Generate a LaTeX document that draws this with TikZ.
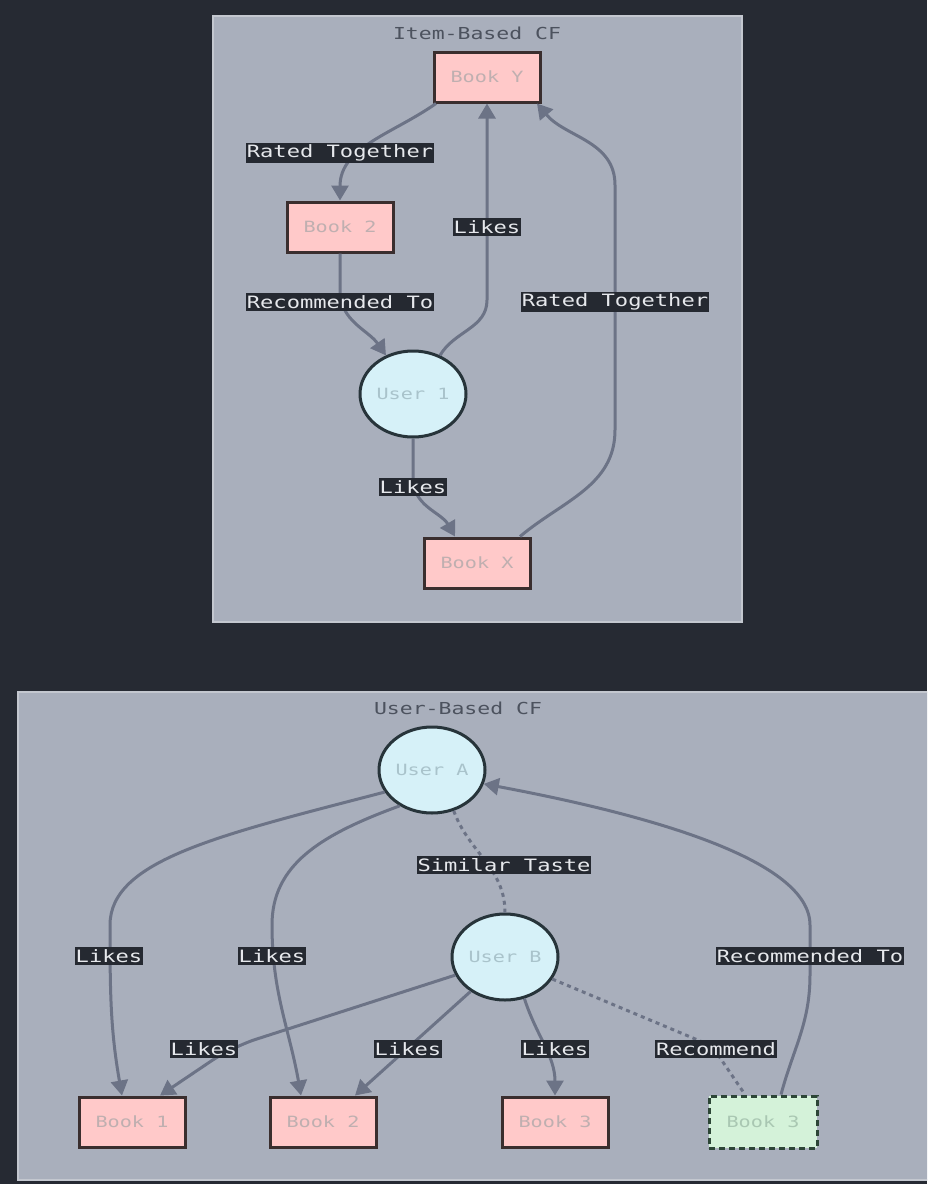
\documentclass[tikz,border=0pt]{standalone}
\usepackage{fontspec}
\usetikzlibrary{arrows.meta,shapes.geometric}
\newfontfamily\mono[FakeStretch=1.3]{DejaVu Sans Mono}
\definecolor{bgdark}{HTML}{262A33}
\definecolor{clusterfill}{HTML}{A9AFBC}
\definecolor{clusterline}{HTML}{C3C7CF}
\definecolor{edgecol}{HTML}{6C7386}
\definecolor{bookfill}{HTML}{FFC9C9}
\definecolor{bookline}{HTML}{3A2E2E}
\definecolor{booktext}{HTML}{BFAFB0}
\definecolor{userfill}{HTML}{D6F1F8}
\definecolor{userline}{HTML}{27343A}
\definecolor{usertext}{HTML}{A9C3CB}
\definecolor{greenfill}{HTML}{D4F2D9}
\definecolor{greenline}{HTML}{2C4636}
\definecolor{greentext}{HTML}{A9C7B2}
\definecolor{labelfill}{HTML}{252931}
\definecolor{labeltext}{HTML}{E6E8EC}
\definecolor{titletext}{HTML}{4C525E}
\tikzset{
  cluster/.style={fill=clusterfill, draw=clusterline, line width=1.5pt},
  booknode/.style={rectangle, fill=bookfill, draw=bookline, line width=3pt,
    minimum width=106pt, minimum height=50pt, text=booktext, font=\mono\fontsize{15.5}{17}\selectfont},
  usernode/.style={ellipse, fill=userfill, draw=userline, line width=3pt,
    minimum width=106pt, minimum height=86pt, inner sep=0pt, text=usertext, font=\mono\fontsize{15.5}{17}\selectfont},
  recnode/.style={rectangle, fill=greenfill, draw=greenline, line width=3pt,
    dash pattern=on 6pt off 4pt, minimum width=108pt, minimum height=52pt,
    text=greentext, font=\mono\fontsize{15.5}{17}\selectfont},
  edgelabel/.style={fill=labelfill, text=labeltext, inner xsep=1pt, inner ysep=2pt,
    font=\mono\fontsize{17}{19}\selectfont},
  clustertitle/.style={text=titletext, font=\mono\fontsize{16.5}{18}\selectfont},
  link/.style={draw=edgecol, line width=3pt, -{Triangle[length=15pt,width=17pt]}},
  dotlink/.style={draw=edgecol, line width=3pt, dash pattern=on 4pt off 4pt},
}
\begin{document}
\begin{tikzpicture}[x=1pt,y=1pt]
\useasboundingbox (0,0) rectangle (927,-1184);
\clip (0,0) rectangle (927,-1184);
\fill[bgdark] (0,0) rectangle (927,-1184);

% clusters
\draw[cluster] (213,-16) rectangle (742,-622);
\draw[cluster] (18,-692) rectangle (945,-1180);
\node[clustertitle] (t1) at (477,-33) {Item-Based CF};
\node[clustertitle] (t2) at (458,-708) {User-Based CF};

% ---------- Item-based ----------
\node[booknode] (BY) at (487,-77) {Book Y};
\node[booknode] (BT2) at (340,-227) {Book 2};
\node[usernode] (U1) at (413,-394) {User 1};
\node[booknode] (BX) at (477,-563) {Book X};

\coordinate (cRT1) at (340,-153);
\coordinate (cL1) at (487,-227);
\coordinate (cRec) at (340,-302);
\coordinate (cRT2) at (615,-302);
\coordinate (cL2) at (413,-487);

\draw[link] ([xshift=-51]BY.south) to[out=-145,in=90] (BT2.north);
\draw[link] (BT2.south) -- (340,-290) to[out=-90,in=125] (U1.125);
\draw[link] (U1.55) to[out=60,in=-90] (487,-300) -- (BY.south);
\draw[link] (U1.south) -- (413,-478) to[out=-90,in=120] ([xshift=-22]BX.north);
\draw[link] ([xshift=43]BX.north) to[out=40,in=-90] (615,-430) -- (615,-185) to[out=90,in=-50] ([xshift=50]BY.south);

\node[edgelabel] (lRT1) at (cRT1) {Rated Together};
\node[edgelabel] (lL1) at (cL1) {Likes};
\node[edgelabel] (lRec) at (cRec) {Recommended To};
\node[edgelabel] (lRT2) at (cRT2) {Rated Together};
\node[edgelabel] (lL2) at (cL2) {Likes};

% ---------- User-based ----------
\node[usernode] (UA) at (432,-770) {User A};
\node[usernode] (UB) at (505,-957) {User B};
\node[booknode] (B1) at (132,-1122) {Book 1};
\node[booknode] (B2) at (323,-1122) {Book 2};
\node[booknode] (B3) at (555,-1122) {Book 3};
\node[recnode] (G3) at (763,-1122) {Book 3};

\coordinate (cST) at (504,-865);
\coordinate (cLA1) at (109,-956);
\coordinate (cLA2) at (272,-956);
\coordinate (cRT) at (810,-956);
\coordinate (cLB1) at (204,-1049);
\coordinate (cLB2) at (408,-1049);
\coordinate (cLB3) at (555,-1049);
\coordinate (cR) at (716,-1049);

\draw[link] (UA.205) .. controls (220,-835) and (110,-860) .. (110,-925) to[out=-90,in=100] ([xshift=-10]B1.north);
\draw[link] (UA.228) .. controls (320,-835) and (272,-865) .. (272,-925) to[out=-90,in=100] ([xshift=-22]B2.north);
\draw[dotlink] (UA.-62) to[out=-70,in=90] (UB.north);
\draw[link, rounded corners=25pt] (UB.200) -- (232,-1047) -- ([xshift=28]B1.north);
\draw[link] (UB.225) -- ([xshift=32]B2.north);
\draw[link] (UB.-65) to[out=-72,in=90] (B3.north);
\draw[dotlink] (UB.-25) -- (712,-1046) -- ([xshift=-18]G3.north);
\draw[link] ([xshift=18]G3.north) to[out=75,in=-90] (810,-975) -- (810,-925) .. controls (810,-860) and (650,-815) .. (UA.-15);

\node[edgelabel] (lST) at (cST) {Similar Taste};
\node[edgelabel] (lLA1) at (cLA1) {Likes};
\node[edgelabel] (lLA2) at (cLA2) {Likes};
\node[edgelabel] (lRT) at (cRT) {Recommended To};
\node[edgelabel] (lLB1) at (cLB1) {Likes};
\node[edgelabel] (lLB2) at (cLB2) {Likes};
\node[edgelabel] (lLB3) at (cLB3) {Likes};
\node[edgelabel] (lR) at (cR) {Recommend};
\end{tikzpicture}
\end{document}
